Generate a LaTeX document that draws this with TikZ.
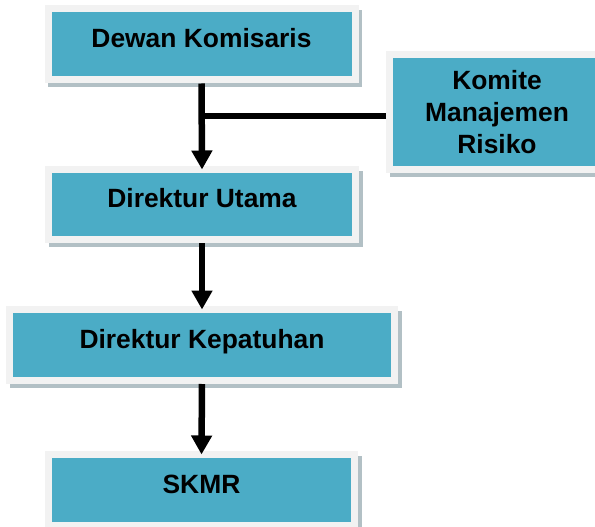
\documentclass[tikz,border=0pt]{standalone}
\usepackage{fontspec}
\setmainfont{Liberation Sans}
\usetikzlibrary{arrows.meta,backgrounds,calc}
\definecolor{boxteal}{RGB}{75,172,198}
\definecolor{boxframe}{RGB}{242,242,242}
\definecolor{boxshade}{RGB}{178,192,197}
\tikzset{
  orgbox/.style={draw=boxframe, line width=7pt, fill=boxteal, outer sep=0pt, inner sep=2pt,
    font=\fontsize{26.4}{31.7}\selectfont\bfseries, align=center},
  oneline/.style={text height=20pt, text depth=14pt},
  link/.style={line width=6.5pt, shorten <=3.5pt},
  flow/.style={link, -{Triangle[width=20pt,length=19pt]}}
}

\begin{document}
\begin{tikzpicture}[x=1pt, y=-1pt]
\useasboundingbox (0,0) rectangle (595,527);
\node[orgbox, oneline, minimum width=307pt, minimum height=71pt] (dewan) at (201.5,44.5) {Dewan Komisaris};
\node[orgbox, minimum width=215pt, minimum height=115pt] (komite) at (497,112) {Komite\\Manajemen\\Risiko};
\node[orgbox, oneline, minimum width=307pt, minimum height=70pt] (utama) at (202,204.5) {Direktur Utama};
\node[orgbox, oneline, minimum width=385pt, minimum height=71pt] (kepatuhan) at (202,345) {Direktur Kepatuhan};
\node[orgbox, oneline, minimum width=306pt, minimum height=71pt] (skmr) at (201.5,490) {SKMR};
\begin{scope}[on background layer]
  \foreach \n in {dewan,komite,utama,kepatuhan,skmr}
    \fill[boxshade] ($(\n.north west)+(0,1)$) rectangle ($(\n.south east)+(7,7.5)$);
\end{scope}
\coordinate (tee) at (202.5,116);
\draw[flow] (dewan.south) -- (utama.north);
\draw[link] (komite.west |- tee) -- (tee);
\draw[flow] (utama.south) -- (kepatuhan.north);
\draw[flow] (kepatuhan.south) -- (skmr.north);
\end{tikzpicture}
\end{document}
